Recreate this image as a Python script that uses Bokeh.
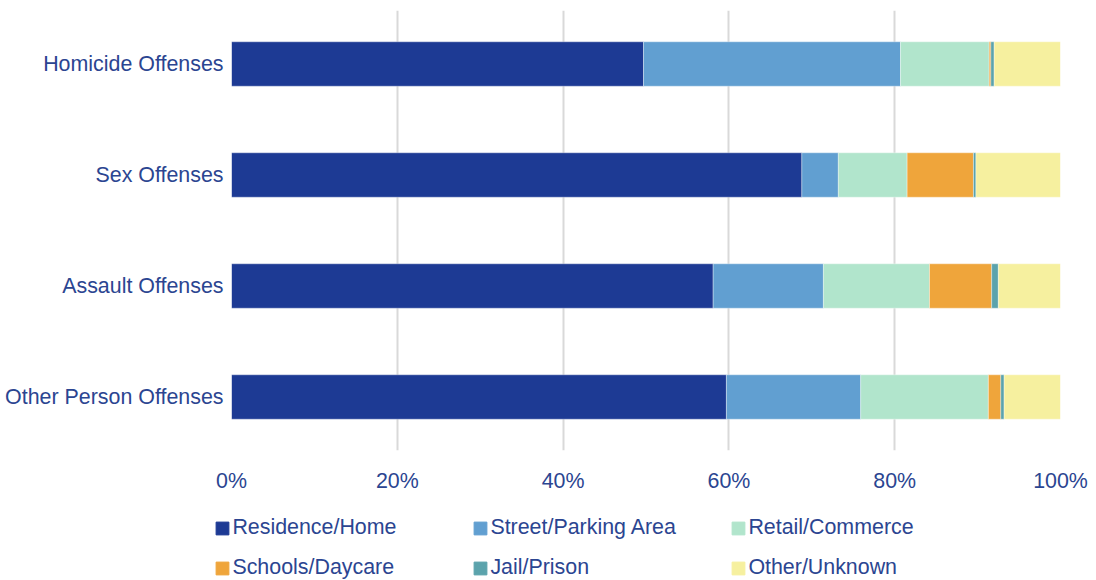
from bokeh.plotting import figure
from bokeh.models import FactorRange, Range1d, FixedTicker, PrintfTickFormatter, Legend, LegendItem
from bokeh.layouts import column
from bokeh.embed import file_html
from bokeh.resources import INLINE

categories = ["Homicide Offenses", "Sex Offenses", "Assault Offenses", "Other Person Offenses"]
series = ["Residence/Home", "Street/Parking Area", "Retail/Commerce", "Schools/Daycare", "Jail/Prison", "Other/Unknown"]
residence = [49.7, 68.8, 58.1, 59.7]
street = [31.0, 4.4, 13.3, 16.2]
retail = [10.7, 8.3, 12.8, 15.4]
schools = [0.2, 8.0, 7.5, 1.5]
jail = [0.4, 0.3, 0.8, 0.4]
other = [8.0, 10.2, 7.5, 6.8]
x_ticks = [0, 20, 40, 60, 80, 100]

colors = ["#1d3a94", "#619fd1", "#b1e5cc", "#efa53b", "#5ba3ac", "#f6f09f"]
text_color = "#2b4591"
font = "Liberation Sans"
fsize = "21.4px"

keys = ["residence", "street", "retail", "schools", "jail", "other"]
data = dict(cat=categories, residence=residence, street=street, retail=retail,
            schools=schools, jail=jail, other=other)

p = figure(width=1088, height=504, output_backend="svg", toolbar_location=None,
           y_range=FactorRange(*list(reversed(categories)), range_padding=-0.009),
           x_range=Range1d(0, 100),
           min_border_left=231, min_border_right=28, min_border_top=10, min_border_bottom=54)
p.frame_align = False

p.hbar_stack(keys, y="cat", height=0.4, color=colors, source=data,
             line_color="white", line_alpha=0.35, line_width=1)

p.outline_line_color = None
p.ygrid.grid_line_color = None
p.xgrid.grid_line_color = "#d9d9d9"
p.xgrid.grid_line_width = 2
p.xaxis.ticker = FixedTicker(ticks=x_ticks)
p.xaxis.formatter = PrintfTickFormatter(format="%d%%")
for ax in (p.xaxis[0], p.yaxis[0]):
    ax.axis_line_color = None
    ax.major_tick_line_color = None
    ax.minor_tick_line_color = None
    ax.major_tick_out = 0
    ax.major_tick_in = 0
    ax.major_label_text_font = font
    ax.major_label_text_font_size = fsize
    ax.major_label_text_color = text_color
p.xaxis.major_label_standoff = 18
p.yaxis.major_label_standoff = 8

# legend panel (separate plot so the legend is not clipped by the main frame)
lp = figure(width=1088, height=76, output_backend="svg", toolbar_location=None,
            x_range=Range1d(0, 1), y_range=Range1d(0, 1), x_axis_type=None, y_axis_type=None,
            min_border=0, min_border_left=0, min_border_right=0, min_border_top=0, min_border_bottom=0)
lp.frame_align = False
lp.outline_line_color = None
lp.grid.visible = False
items = []
for s, c in zip(series, colors):
    r = lp.hbar(y=[-5], right=[-5], height=0.5, color=c)
    items.append(LegendItem(label=s, renderers=[r]))
legend = Legend(items=items, location=(214.4, 0), orientation="horizontal", ncols=3,
                glyph_width=16, glyph_height=16, label_standoff=2, label_width=225,
                label_height=24, spacing=15, padding=0, margin=0,
                border_line_color=None, background_fill_alpha=0,
                label_text_font=font, label_text_font_size=fsize, label_text_color=text_color)
lp.add_layout(legend, "center")

layout = column(p, lp, spacing=0)
open("out.html", "w").write(file_html(layout, INLINE))
